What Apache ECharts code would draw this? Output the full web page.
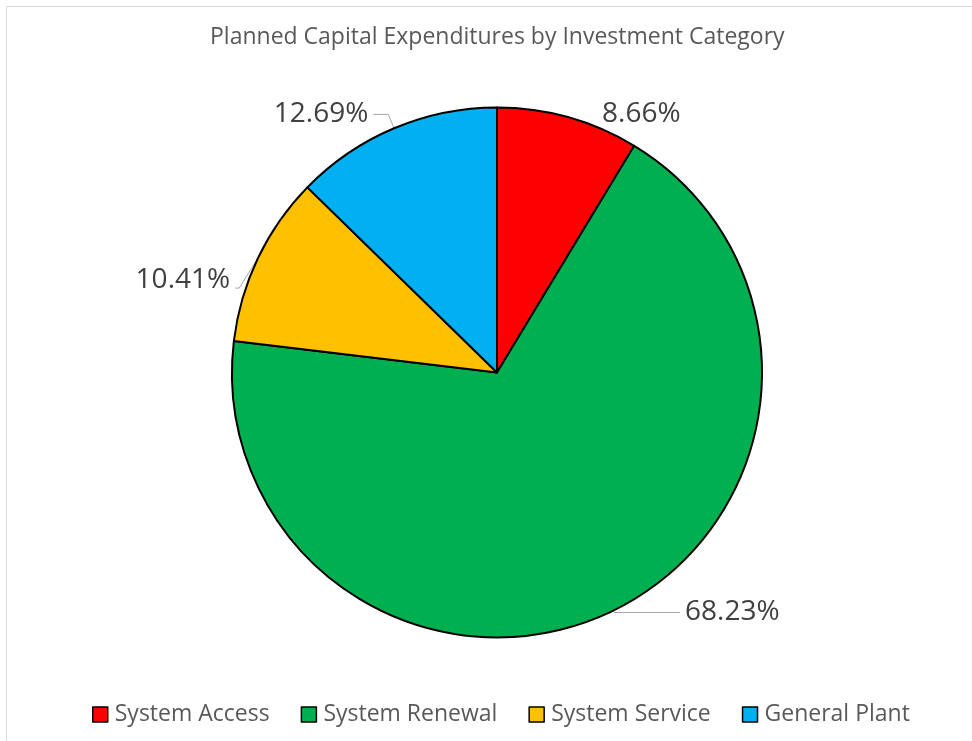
<!DOCTYPE html>
<html>
<head>
<meta charset="utf-8">
<script src="https://cdn.jsdelivr.net/npm/echarts@6/dist/echarts.min.js"></script>
<style>
  html, body { margin: 0; padding: 0; background: #fff; }
  #chart { width: 972px; height: 741px; }
</style>
</head>
<body>
<div id="chart"></div>
<script>
// Share of planned capital expenditures (percent) by investment category
const categories = ['System Access', 'System Renewal', 'System Service', 'General Plant'];
const shares = [8.66, 68.23, 10.41, 12.69];
const colors = ['#ff0000', '#00b050', '#ffc000', '#00b0f0'];

// Leader-line lengths per slice [radial, horizontal] and whether the line is drawn
const leaderLengths = [[3, 28], [2, 66], [2, 21], [15, 15]];
const leaderVisible = [false, true, true, true];
// Extra vertical shift of each label below its default spot
const labelShiftY = [0, 0, 23, 0];

const FONT = '"Open Sans", "Noto Sans", sans-serif';

const chart = echarts.init(document.getElementById('chart'), null, { renderer: 'canvas' });

const data = categories.map((name, i) => ({
  name: name,
  value: shares[i],
  itemStyle: { color: colors[i] },
  labelLine: {
    show: leaderVisible[i],
    length: leaderLengths[i][0],
    length2: leaderLengths[i][1]
  }
}));

chart.setOption({
  backgroundColor: '#ffffff',
  animation: false,
  graphic: [{
    type: 'rect',
    silent: true,
    shape: { x: 6.5, y: 6.5, width: 1200, height: 1200 },
    style: { fill: 'none', stroke: '#d9d9d9', lineWidth: 1 }
  }],
  title: {
    text: 'Planned Capital Expenditures by Investment Category',
    left: 205,
    top: 21,
    textStyle: { fontFamily: FONT, fontSize: 23, fontWeight: 'normal', color: '#595959' }
  },
  legend: {
    data: categories,
    bottom: 10,
    left: 87,
    icon: 'rect',
    itemWidth: 15,
    itemHeight: 15,
    itemGap: 31,
    itemStyle: { borderColor: '#000', borderWidth: 1.5 },
    textStyle: { fontFamily: FONT, fontSize: 23, color: '#595959', padding: [0, 0, 0, 2] }
  },
  series: [{
    type: 'pie',
    center: [497, 372.5],
    radius: 265,
    startAngle: 90,
    clockwise: true,
    avoidLabelOverlap: false,
    data: data,
    itemStyle: { borderColor: '#000', borderWidth: 2 },
    label: {
      show: true,
      position: 'outside',
      formatter: p => p.value.toFixed(2) + '%',
      fontFamily: FONT,
      fontSize: 28,
      color: '#404040'
    },
    labelLine: {
      lineStyle: { color: '#a6a6a6', width: 1 }
    },
    labelLayout: function (params) {
      const dy = labelShiftY[params.dataIndex];
      const pts = params.labelLinePoints;
      if (!dy || !pts) return {};
      // Re-route the leader from the slice edge down to the shifted label
      const r = params.labelRect;
      const yEnd = r.y + dy + r.height * 0.78;
      const xEnd = pts[2][0];
      return {
        dy: dy,
        labelLinePoints: [pts[0], [xEnd + 4, yEnd], [xEnd, yEnd]]
      };
    },
    emphasis: { disabled: true }
  }]
});
</script>
</body>
</html>
